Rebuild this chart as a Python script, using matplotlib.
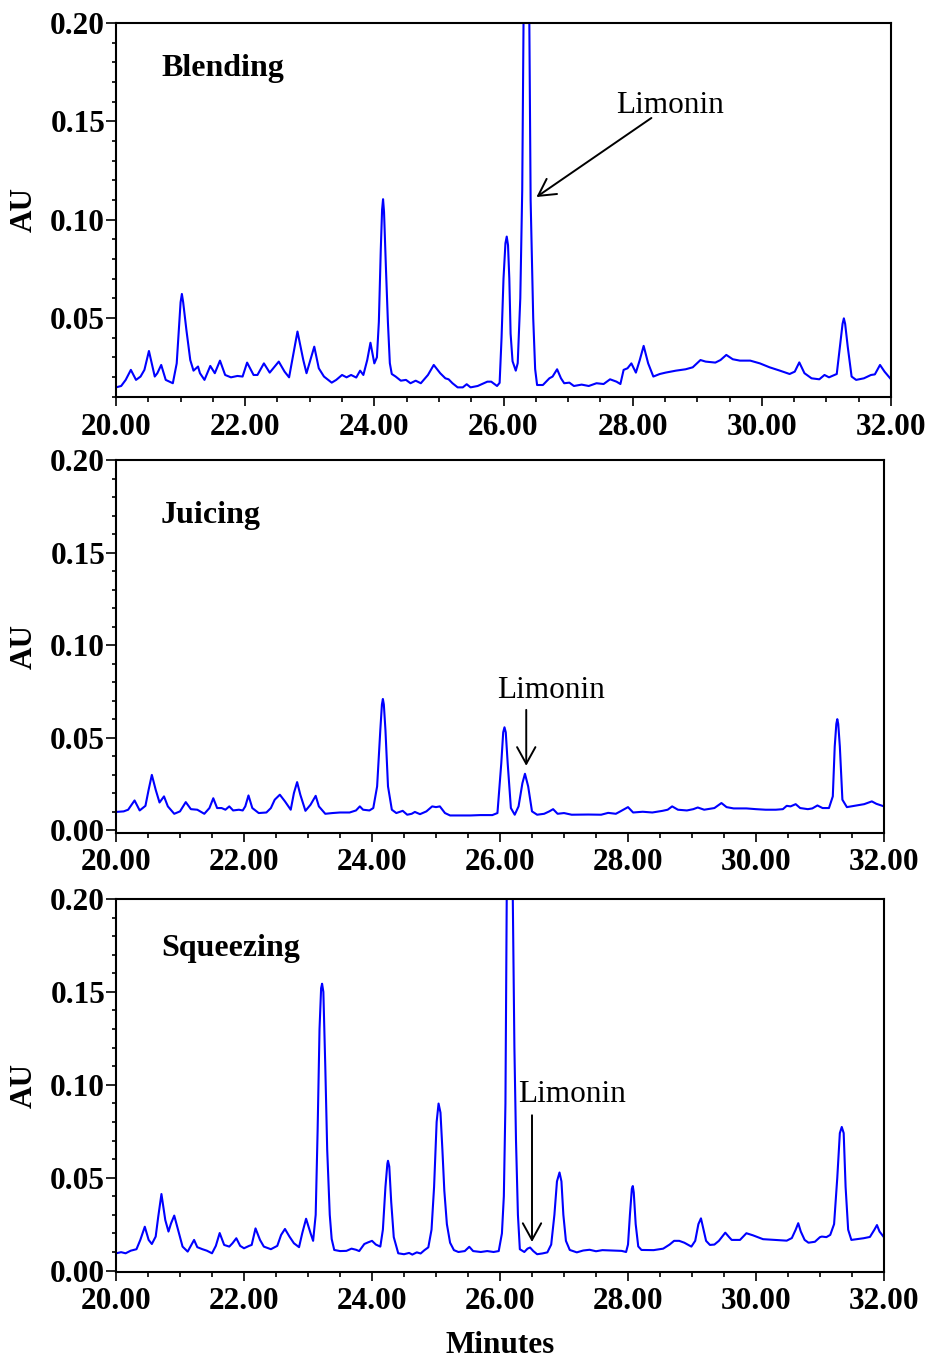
import matplotlib
matplotlib.use("Agg")
import matplotlib.pyplot as plt
from matplotlib.ticker import MultipleLocator, FormatStrFormatter

plt.rcParams['font.family'] = ['Liberation Serif', 'DejaVu Serif']
plt.rcParams['font.weight'] = 'bold'

# chromatogram traces, retention time (min) vs absorbance (AU)
blend_t = [20.00, 20.08, 20.15, 20.23, 20.31, 20.38, 20.44, 20.51, 20.60, 20.64,
           20.70, 20.77, 20.88, 20.94, 21.00, 21.02, 21.04, 21.09, 21.15, 21.20,
           21.27, 21.30, 21.37, 21.46, 21.53, 21.61, 21.69, 21.78, 21.88, 21.96,
           22.03, 22.13, 22.19, 22.29, 22.38, 22.52, 22.61, 22.68, 22.81, 22.90,
           22.95, 23.07, 23.14, 23.22, 23.34, 23.41, 23.50, 23.57, 23.64, 23.72,
           23.78, 23.83, 23.89, 23.94, 24.00, 24.04, 24.07, 24.10, 24.12, 24.135,
           24.15, 24.18, 24.21, 24.24, 24.27, 24.33, 24.41, 24.49, 24.56, 24.64,
           24.72, 24.83, 24.92, 25.02, 25.10, 25.15, 25.21, 25.29, 25.37, 25.43,
           25.49, 25.60, 25.75, 25.81, 25.90, 25.94, 25.97, 26.00, 26.03, 26.05,
           26.07, 26.09, 26.11, 26.14, 26.19, 26.22, 26.26, 26.29, 26.31, 26.355,
           26.40, 26.42, 26.46, 26.49, 26.52, 26.61, 26.71, 26.76, 26.83, 26.89,
           26.94, 27.02, 27.09, 27.21, 27.32, 27.44, 27.55, 27.65, 27.75, 27.81,
           27.86, 27.92, 27.98, 28.05, 28.11, 28.17, 28.24, 28.32, 28.42, 28.51,
           28.67, 28.82, 28.93, 29.05, 29.13, 29.28, 29.36, 29.45, 29.55, 29.66,
           29.82, 29.97, 30.12, 30.28, 30.43, 30.51, 30.58, 30.66, 30.77, 30.89,
           30.97, 31.04, 31.16, 31.21, 31.25, 31.27, 31.29, 31.33, 31.39, 31.46,
           31.58, 31.69, 31.75, 31.83, 31.90, 32.00]
blend_au = [0.0147, 0.0154, 0.0185, 0.0236, 0.0185, 0.0202, 0.0236, 0.0332, 0.0202, 0.0219,
            0.0261, 0.0185, 0.0168, 0.0269, 0.0580, 0.0622, 0.0580, 0.0439, 0.0286, 0.0232,
            0.0253, 0.0219, 0.0185, 0.0256, 0.0219, 0.0283, 0.0210, 0.0198, 0.0205, 0.0202,
            0.0273, 0.0210, 0.0210, 0.0269, 0.0222, 0.0278, 0.0227, 0.0198, 0.0431, 0.0286,
            0.0219, 0.0354, 0.0244, 0.0202, 0.0171, 0.0185, 0.0210, 0.0198, 0.0210, 0.0197,
            0.0232, 0.0210, 0.0286, 0.0374, 0.0269, 0.0300, 0.0480, 0.0850, 0.1050, 0.1104,
            0.1040, 0.0750, 0.0480, 0.0270, 0.0215, 0.0202, 0.0181, 0.0185, 0.0168, 0.0181,
            0.0168, 0.0210, 0.0261, 0.0219, 0.0193, 0.0188, 0.0168, 0.0147, 0.0147, 0.0163,
            0.0147, 0.0154, 0.0176, 0.0176, 0.0154, 0.0170, 0.0400, 0.0700, 0.0880, 0.0914,
            0.0870, 0.0700, 0.0420, 0.0280, 0.0232, 0.0270, 0.0600, 0.1150, 0.2000, 0.2500,
            0.2000, 0.1100, 0.0500, 0.0240, 0.0159, 0.0159, 0.0193, 0.0202, 0.0239, 0.0193,
            0.0168, 0.0171, 0.0154, 0.0161, 0.0154, 0.0168, 0.0164, 0.0188, 0.0176, 0.0164,
            0.0236, 0.0244, 0.0269, 0.0222, 0.0286, 0.0358, 0.0269, 0.0202, 0.0215, 0.0222,
            0.0232, 0.0239, 0.0249, 0.0286, 0.0278, 0.0273, 0.0286, 0.0312, 0.0290, 0.0283,
            0.0283, 0.0269, 0.0249, 0.0232, 0.0215, 0.0227, 0.0274, 0.0219, 0.0193, 0.0188,
            0.0210, 0.0198, 0.0215, 0.0354, 0.0470, 0.0498, 0.0470, 0.0354, 0.0202, 0.0185,
            0.0193, 0.0210, 0.0213, 0.0261, 0.0227, 0.0188]

juice_t = [20.00, 20.12, 20.19, 20.29, 20.37, 20.46, 20.51, 20.56, 20.62, 20.68,
           20.75, 20.81, 20.91, 21.00, 21.09, 21.17, 21.27, 21.38, 21.46, 21.52,
           21.58, 21.65, 21.71, 21.77, 21.83, 21.92, 21.98, 22.02, 22.07, 22.13,
           22.23, 22.35, 22.42, 22.48, 22.56, 22.64, 22.73, 22.78, 22.83, 22.88,
           22.96, 23.04, 23.12, 23.17, 23.27, 23.38, 23.50, 23.65, 23.75, 23.81,
           23.86, 23.96, 24.02, 24.08, 24.13, 24.155, 24.17, 24.185, 24.21, 24.25,
           24.31, 24.38, 24.48, 24.55, 24.62, 24.67, 24.75, 24.85, 24.94, 25.00,
           25.06, 25.14, 25.22, 25.38, 25.54, 25.69, 25.88, 25.96, 26.02, 26.05,
           26.07, 26.09, 26.12, 26.17, 26.23, 26.29, 26.35, 26.39, 26.44, 26.50,
           26.58, 26.69, 26.77, 26.83, 26.90, 27.00, 27.12, 27.38, 27.58, 27.69,
           27.81, 27.88, 28.00, 28.08, 28.23, 28.38, 28.54, 28.62, 28.69, 28.78,
           28.92, 29.02, 29.09, 29.19, 29.35, 29.46, 29.54, 29.65, 29.85, 30.00,
           30.15, 30.31, 30.42, 30.48, 30.54, 30.62, 30.69, 30.81, 30.88, 30.96,
           31.04, 31.14, 31.20, 31.23, 31.255, 31.27, 31.285, 31.31, 31.35, 31.42,
           31.54, 31.69, 31.81, 31.88, 32.00]
juice_au = [0.0100, 0.0103, 0.0112, 0.0162, 0.0108, 0.0133, 0.0220, 0.0300, 0.0220, 0.0151,
            0.0184, 0.0130, 0.0090, 0.0103, 0.0153, 0.0115, 0.0112, 0.0090, 0.0121, 0.0174,
            0.0121, 0.0121, 0.0112, 0.0130, 0.0108, 0.0112, 0.0108, 0.0130, 0.0189, 0.0121,
            0.0094, 0.0097, 0.0121, 0.0166, 0.0193, 0.0157, 0.0112, 0.0202, 0.0261, 0.0193,
            0.0106, 0.0139, 0.0187, 0.0130, 0.0090, 0.0094, 0.0097, 0.0097, 0.0108, 0.0130,
            0.0112, 0.0108, 0.0121, 0.0238, 0.0543, 0.0680, 0.0710, 0.0680, 0.0543, 0.0238,
            0.0112, 0.0094, 0.0106, 0.0085, 0.0090, 0.0100, 0.0088, 0.0103, 0.0130, 0.0126,
            0.0130, 0.0094, 0.0081, 0.0081, 0.0081, 0.0083, 0.0083, 0.0094, 0.0363, 0.0530,
            0.0557, 0.0530, 0.0363, 0.0121, 0.0085, 0.0130, 0.0255, 0.0306, 0.0238, 0.0103,
            0.0085, 0.0090, 0.0103, 0.0115, 0.0090, 0.0094, 0.0085, 0.0086, 0.0085, 0.0095,
            0.0090, 0.0103, 0.0126, 0.0097, 0.0101, 0.0097, 0.0106, 0.0112, 0.0130, 0.0112,
            0.0108, 0.0115, 0.0124, 0.0112, 0.0121, 0.0148, 0.0126, 0.0119, 0.0119, 0.0115,
            0.0112, 0.0112, 0.0115, 0.0133, 0.0130, 0.0142, 0.0121, 0.0115, 0.0119, 0.0135,
            0.0121, 0.0121, 0.0184, 0.0453, 0.0575, 0.0601, 0.0575, 0.0453, 0.0166, 0.0126,
            0.0133, 0.0142, 0.0157, 0.0144, 0.0130]

squeeze_t = [20.00, 20.08, 20.15, 20.23, 20.32, 20.38, 20.45, 20.51, 20.56, 20.62,
             20.66, 20.71, 20.77, 20.82, 20.86, 20.91, 20.97, 21.04, 21.12, 21.17,
             21.22, 21.27, 21.35, 21.42, 21.50, 21.56, 21.62, 21.69, 21.77, 21.82,
             21.88, 21.94, 22.00, 22.08, 22.12, 22.18, 22.25, 22.31, 22.42, 22.52,
             22.58, 22.64, 22.71, 22.78, 22.86, 22.91, 22.97, 23.04, 23.08, 23.12,
             23.15, 23.18, 23.205, 23.22, 23.24, 23.27, 23.30, 23.34, 23.37, 23.41,
             23.50, 23.60, 23.68, 23.75, 23.80, 23.88, 23.94, 24.00, 24.06, 24.13,
             24.17, 24.21, 24.24, 24.25, 24.27, 24.30, 24.34, 24.41, 24.50, 24.58,
             24.63, 24.70, 24.76, 24.82, 24.88, 24.93, 24.97, 25.01, 25.04, 25.07,
             25.10, 25.13, 25.17, 25.22, 25.28, 25.35, 25.45, 25.52, 25.58, 25.70,
             25.80, 25.90, 25.98, 26.03, 26.06, 26.085, 26.105, 26.155, 26.20, 26.225,
             26.25, 26.28, 26.31, 26.38, 26.43, 26.47, 26.52, 26.58, 26.66, 26.74,
             26.80, 26.85, 26.89, 26.93, 26.96, 26.99, 27.03, 27.09, 27.20, 27.30,
             27.40, 27.50, 27.60, 27.75, 27.90, 27.97, 28.00, 28.03, 28.06, 28.075,
             28.09, 28.12, 28.16, 28.21, 28.40, 28.55, 28.65, 28.72, 28.80, 28.88,
             28.99, 29.05, 29.10, 29.14, 29.18, 29.22, 29.28, 29.35, 29.42, 29.52,
             29.58, 29.62, 29.75, 29.85, 29.95, 30.11, 30.30, 30.48, 30.56, 30.62,
             30.66, 30.70, 30.76, 30.82, 30.92, 31.00, 31.03, 31.10, 31.16, 31.22,
             31.27, 31.31, 31.34, 31.37, 31.40, 31.44, 31.49, 31.60, 31.68, 31.78,
             31.85, 31.89, 31.93, 32.00]
squeeze_au = [0.0093, 0.0099, 0.0093, 0.0107, 0.0115, 0.0165, 0.0236, 0.0165, 0.0143, 0.0183,
              0.0290, 0.0412, 0.0272, 0.0210, 0.0254, 0.0296, 0.0218, 0.0129, 0.0102, 0.0133,
              0.0165, 0.0126, 0.0115, 0.0107, 0.0093, 0.0133, 0.0202, 0.0138, 0.0129, 0.0147,
              0.0174, 0.0133, 0.0120, 0.0133, 0.0138, 0.0227, 0.0165, 0.0129, 0.0115, 0.0133,
              0.0192, 0.0224, 0.0183, 0.0147, 0.0126, 0.0201, 0.0279, 0.0201, 0.0160, 0.0300,
              0.0750, 0.1300, 0.1520, 0.1544, 0.1500, 0.1100, 0.0650, 0.0300, 0.0170, 0.0111,
              0.0105, 0.0106, 0.0118, 0.0112, 0.0105, 0.0143, 0.0152, 0.0160, 0.0140, 0.0129,
              0.0220, 0.0450, 0.0575, 0.0591, 0.0560, 0.0370, 0.0180, 0.0093, 0.0088, 0.0095,
              0.0086, 0.0098, 0.0092, 0.0110, 0.0125, 0.0220, 0.0450, 0.0800, 0.0899, 0.0850,
              0.0650, 0.0430, 0.0250, 0.0150, 0.0110, 0.0100, 0.0105, 0.0128, 0.0105, 0.0100,
              0.0105, 0.0100, 0.0105, 0.0200, 0.0400, 0.0900, 0.2000, 0.2650, 0.2000, 0.1200,
              0.0700, 0.0300, 0.0115, 0.0100, 0.0118, 0.0124, 0.0105, 0.0088, 0.0092, 0.0098,
              0.0140, 0.0300, 0.0480, 0.0528, 0.0480, 0.0300, 0.0160, 0.0111, 0.0098, 0.0108,
              0.0112, 0.0104, 0.0110, 0.0108, 0.0106, 0.0100, 0.0140, 0.0300, 0.0440, 0.0455,
              0.0420, 0.0250, 0.0130, 0.0111, 0.0110, 0.0118, 0.0140, 0.0160, 0.0160, 0.0150,
              0.0129, 0.0160, 0.0250, 0.0281, 0.0220, 0.0160, 0.0138, 0.0140, 0.0160, 0.0204,
              0.0180, 0.0165, 0.0165, 0.0201, 0.0190, 0.0169, 0.0165, 0.0161, 0.0175, 0.0220,
              0.0255, 0.0210, 0.0165, 0.0150, 0.0155, 0.0180, 0.0183, 0.0180, 0.0192, 0.0250,
              0.0500, 0.0740, 0.0773, 0.0740, 0.0450, 0.0220, 0.0165, 0.0170, 0.0174, 0.0181,
              0.0220, 0.0245, 0.0210, 0.0179]

panel_names = ['Blending', 'Juicing', 'Squeezing']
# (text x, text baseline y, arrow tail, arrow tip) in data units
limonin_notes = [
    ((27.75, 0.1541), (28.29, 0.1517), (26.51, 0.1115)),
    ((25.95, 0.0714), (26.41, 0.0651), (26.41, 0.0349)),
    ((26.29, 0.0908), (26.50, 0.0836), (26.50, 0.0154)),
]

W, H = 932, 1359
fig = plt.figure(figsize=(W / 100, H / 100), dpi=100)

# axes boxes in pixels: left, top, right, bottom
boxes = [(116, 23, 891, 397), (116, 460, 884, 832.5), (116, 899, 884, 1271.5)]
ylims = [(0.0098, 0.20), (-0.0011, 0.20), (-0.0005, 0.20)]
title_pos = [(161, 76), (161, 523), (161, 956)]
traces = [(blend_t, blend_au), (juice_t, juice_au), (squeeze_t, squeeze_au)]

for i in range(3):
    l, t, r, b = boxes[i]
    ax = fig.add_axes([l / W, 1 - b / H, (r - l) / W, (b - t) / H])
    ts, au = traces[i]
    ax.plot(ts, au, color='#0000ff', lw=1.5, solid_joinstyle='round', clip_on=True)
    ax.set_xlim(20, 32)
    ax.set_ylim(*ylims[i])

    ax.xaxis.set_major_locator(MultipleLocator(2))
    ax.xaxis.set_minor_locator(MultipleLocator(0.5))
    ax.yaxis.set_major_locator(MultipleLocator(0.05))
    ax.yaxis.set_minor_locator(MultipleLocator(0.01))
    ax.xaxis.set_major_formatter(FormatStrFormatter('%.2f'))
    ax.yaxis.set_major_formatter(FormatStrFormatter('%.2f'))

    ax.tick_params(axis='both', which='both', direction='out', width=1.2,
                   top=False, right=False, labelsize=22.5)
    ax.tick_params(axis='y', which='major', length=7, pad=0.8)
    ax.tick_params(axis='y', which='minor', length=3)
    ax.tick_params(axis='x', which='major', length=6.5, pad=5)
    ax.tick_params(axis='x', which='minor', length=3.6)
    for sp in ax.spines.values():
        sp.set_linewidth(1.5)

    fig.text(24 / W, 1 - (t + b) / 2 / H, 'AU', rotation=90, ha='center',
             va='center', fontsize=22.5, fontweight='bold')
    tx, ty = title_pos[i]
    fig.text(tx / W, 1 - ty / H, panel_names[i], fontsize=23,
             fontweight='bold', va='baseline', ha='left')

    (lx, ly), tail, tip = limonin_notes[i]
    ax.text(lx, ly, 'Limonin', fontsize=22.5, fontweight='normal',
            va='baseline', ha='left')
    ax.annotate('', xy=tip, xytext=tail,
                arrowprops=dict(arrowstyle='->,head_length=0.6,head_width=0.33',
                                mutation_scale=20, lw=1.4, color='black',
                                shrinkA=0, shrinkB=0))

fig.text(500 / W, 1 - 1353 / H, 'Minutes', fontsize=22.5, fontweight='bold',
         ha='center', va='baseline')

fig.savefig('out.png', dpi=100)
